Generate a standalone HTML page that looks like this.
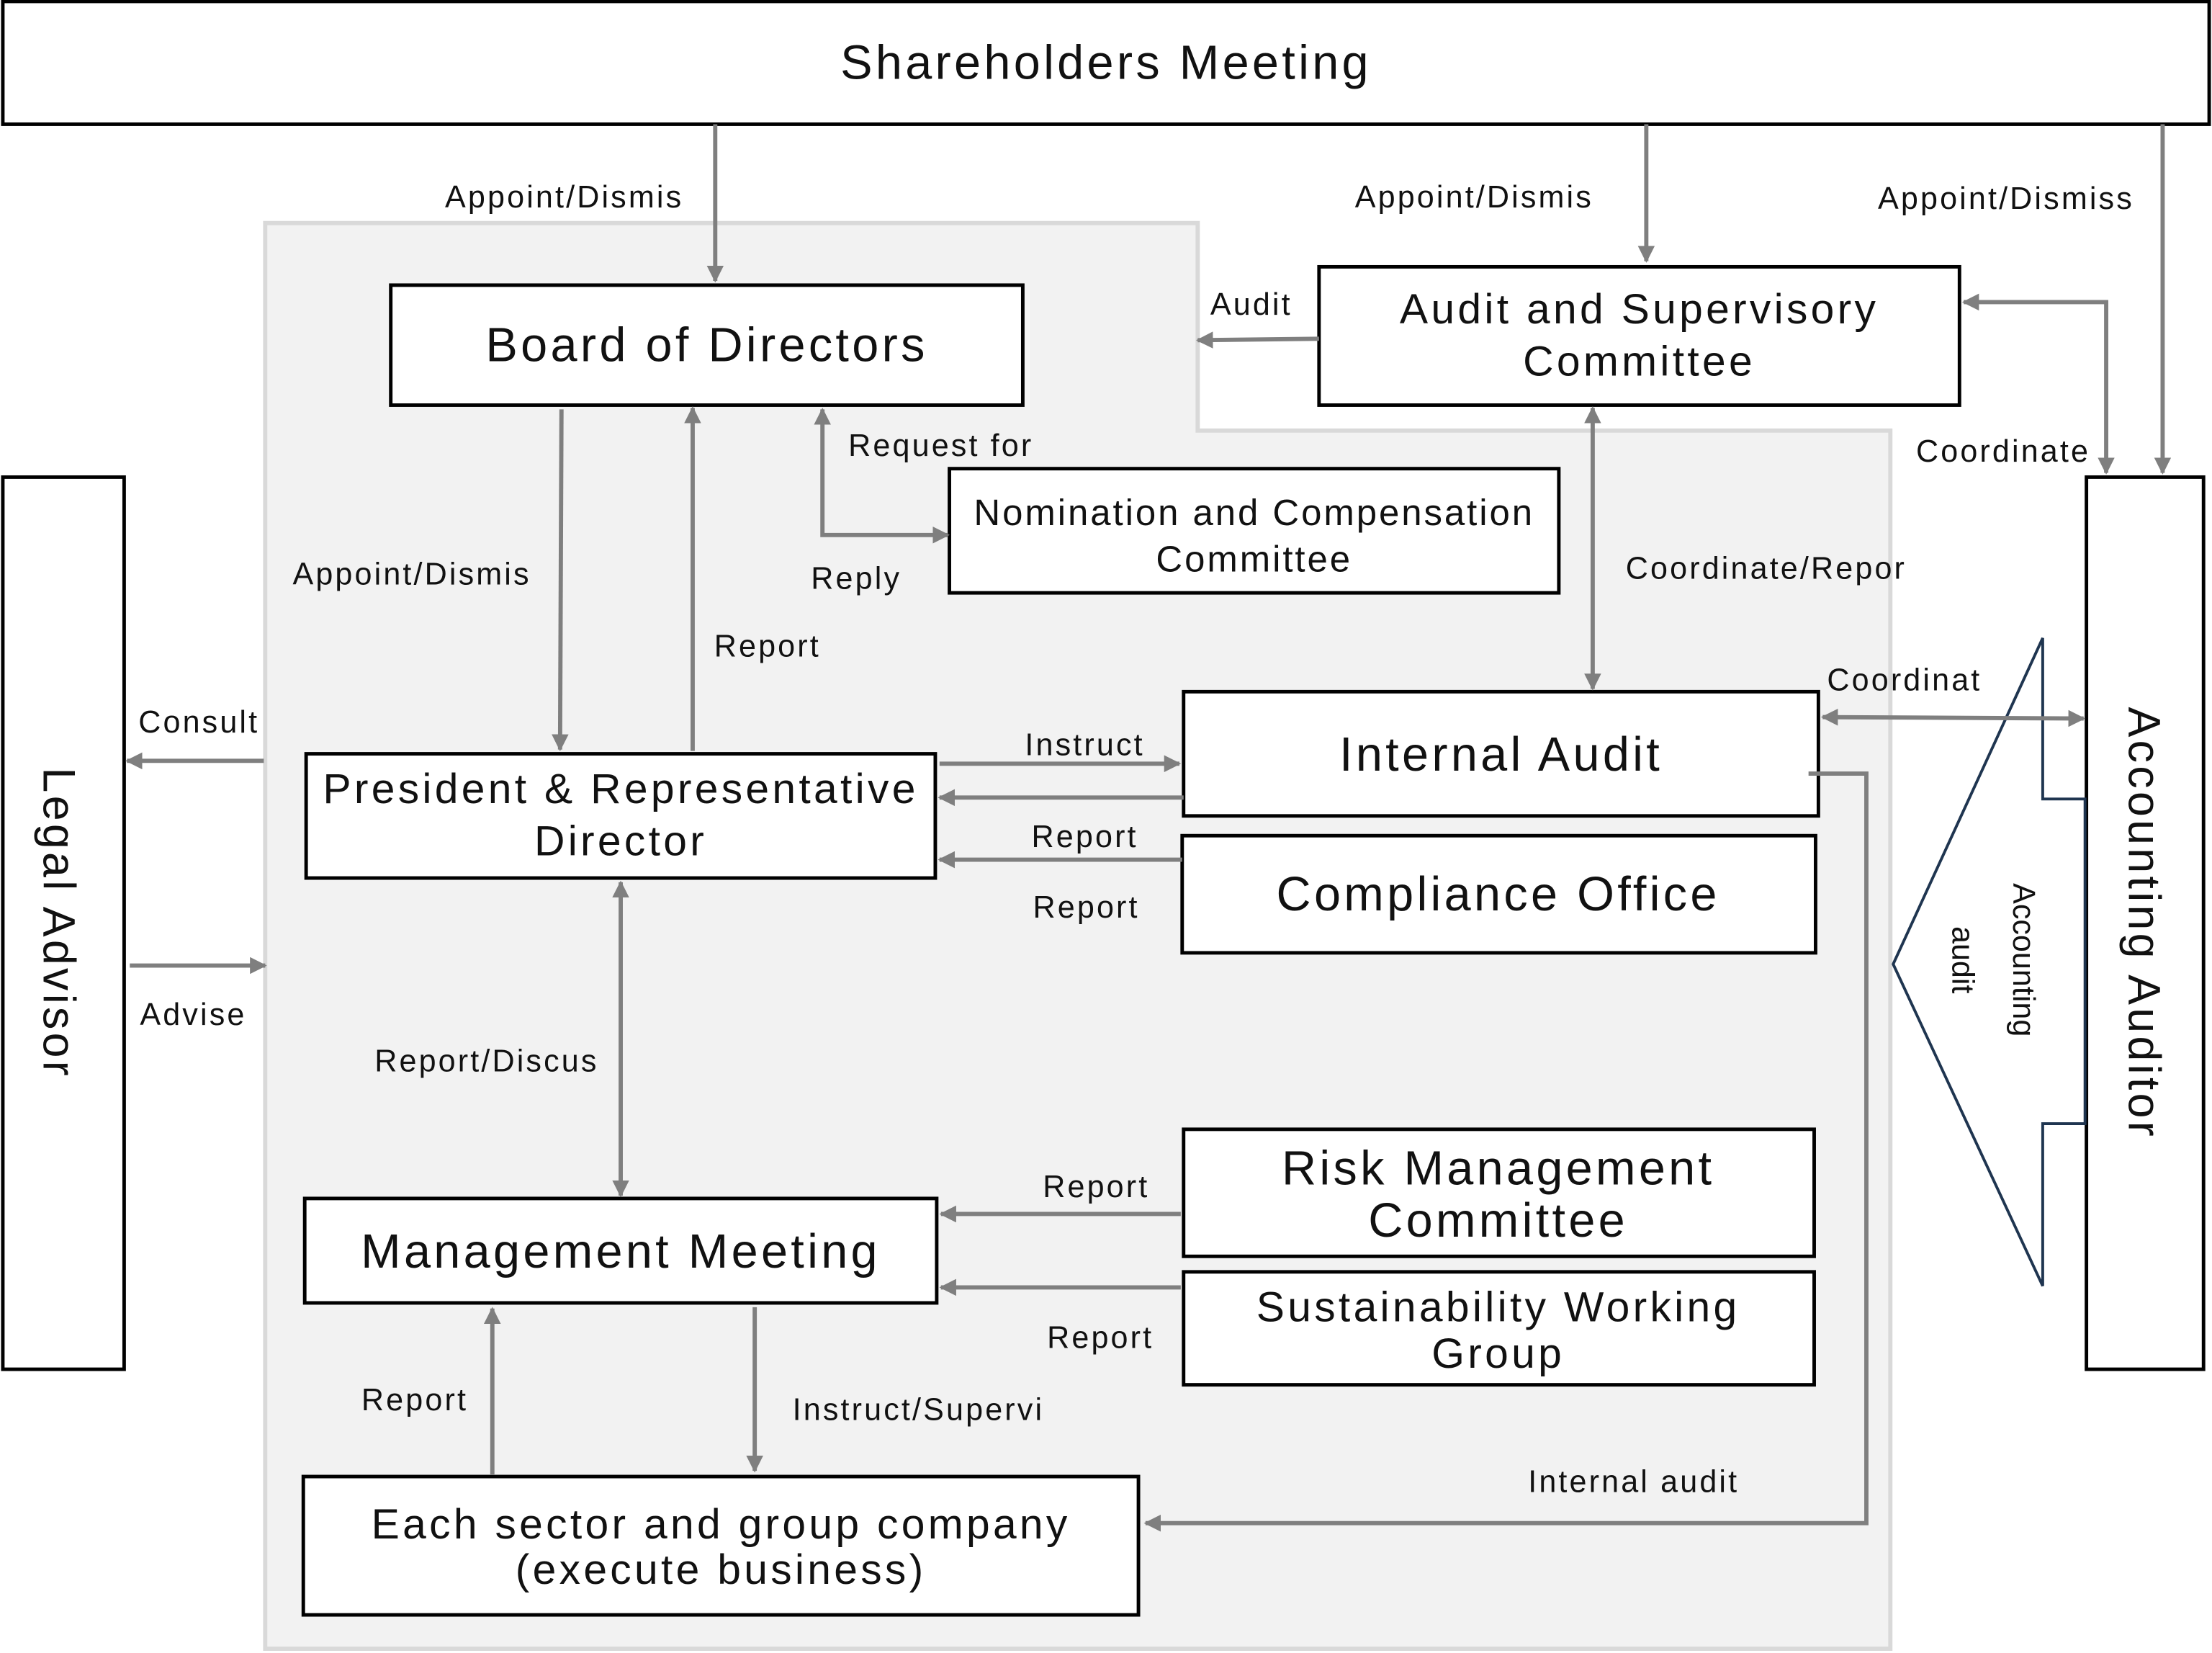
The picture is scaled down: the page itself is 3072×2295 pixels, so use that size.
<!DOCTYPE html>
<html><head><meta charset="utf-8"><style>
html,body{margin:0;padding:0;background:#fff}
svg{display:block}
text{font-family:"Liberation Sans","Noto Sans CJK JP",sans-serif;fill:#111}
.lb{font-size:22px;letter-spacing:1.6px}
.bx{fill:#fff;stroke:#000;stroke-width:2.5}
.ln{stroke:#7f7f7f;stroke-width:3;fill:none}
.t{letter-spacing:2.2px}
</style></head><body>
<svg width="3072" height="2295" viewBox="0 0 1568 1171" preserveAspectRatio="none" xmlns="http://www.w3.org/2000/svg">
<defs>
<marker id="a" viewBox="0 0 10 10" refX="9" refY="5" markerWidth="4" markerHeight="4" orient="auto-start-reverse" markerUnits="strokeWidth">
<path d="M0,0 L10,5 L0,10 z" fill="#7f7f7f"/></marker>
</defs>
<rect width="1568" height="1171" fill="#fff"/>
<polygon points="188,158 849,158 849,305 1340,305 1340,1168 188,1168" fill="#f2f2f2" stroke="#d9d9d9" stroke-width="3"/>

<rect class="bx" x="2" y="1" width="1564" height="87"/>
<text class="t" x="784" y="56" font-size="34" text-anchor="middle">Shareholders Meeting</text>
<rect class="bx" x="277" y="202" width="448" height="85"/>
<text class="t" x="501" y="256" font-size="34" text-anchor="middle">Board of Directors</text>
<rect class="bx" x="935" y="189" width="454" height="98"/>
<text class="t" x="1162" y="229" font-size="30" text-anchor="middle">Audit and Supervisory</text>
<text class="t" x="1162" y="266" font-size="30" text-anchor="middle">Committee</text>
<rect class="bx" x="673" y="332" width="432" height="88"/>
<text x="889" y="372" font-size="26" text-anchor="middle" letter-spacing="1.5">Nomination and Compensation</text>
<text x="889" y="405" font-size="26" text-anchor="middle" letter-spacing="1.5">Committee</text>
<rect class="bx" x="2" y="338" width="86" height="632"/>
<text class="t" transform="translate(31,654) rotate(90)" font-size="32" text-anchor="middle">Legal Advisor</text>
<rect class="bx" x="1479" y="338" width="83" height="632"/>
<text class="t" transform="translate(1509,654) rotate(90)" font-size="32" text-anchor="middle">Accounting Auditor</text>
<polygon points="1342,683 1448,452 1448,566 1478,566 1478,796 1448,796 1448,911" fill="#fff" stroke="#1f3550" stroke-width="2"/>
<text transform="translate(1427,680) rotate(90)" font-size="22" text-anchor="middle">Accounting</text>
<text transform="translate(1384,680) rotate(90)" font-size="22" text-anchor="middle">audit</text>
<rect class="bx" x="839" y="490" width="450" height="88"/>
<text class="t" x="1064" y="546" font-size="34" text-anchor="middle">Internal Audit</text>
<rect class="bx" x="838" y="592" width="449" height="83"/>
<text class="t" x="1062" y="645" font-size="34" text-anchor="middle">Compliance Office</text>
<rect class="bx" x="217" y="534" width="446" height="88"/>
<text class="t" x="440" y="569" font-size="30" text-anchor="middle">President &amp; Representative</text>
<text class="t" x="440" y="606" font-size="30" text-anchor="middle">Director</text>
<rect class="bx" x="839" y="800" width="447" height="90"/>
<text class="t" x="1062" y="839" font-size="34" text-anchor="middle">Risk Management</text>
<text class="t" x="1062" y="876" font-size="34" text-anchor="middle">Committee</text>
<rect class="bx" x="839" y="901" width="447" height="80"/>
<text class="t" x="1062" y="936" font-size="30" text-anchor="middle">Sustainability Working</text>
<text class="t" x="1062" y="969" font-size="30" text-anchor="middle">Group</text>
<rect class="bx" x="216" y="849" width="448" height="74"/>
<text class="t" x="440" y="898" font-size="34" text-anchor="middle">Management Meeting</text>
<rect class="bx" x="215" y="1046" width="592" height="98"/>
<text class="t" x="511" y="1090" font-size="30" text-anchor="middle">Each sector and group company</text>
<text class="t" x="511" y="1122" font-size="30" text-anchor="middle">(execute business)</text>

<line class="ln" x1="507" y1="88" x2="507" y2="199" marker-end="url(#a)"/>
<line class="ln" x1="1167" y1="88" x2="1167" y2="185" marker-end="url(#a)"/>
<line class="ln" x1="1533" y1="88" x2="1533" y2="335" marker-end="url(#a)"/>
<line class="ln" x1="935" y1="240" x2="849" y2="241" marker-end="url(#a)"/>
<polyline class="ln" points="1392,214 1493,214 1493,335" marker-start="url(#a)" marker-end="url(#a)"/>
<line class="ln" x1="398" y1="290" x2="397" y2="531" marker-end="url(#a)"/>
<line class="ln" x1="491" y1="532" x2="491" y2="289" marker-end="url(#a)"/>
<polyline class="ln" points="583,290 583,379 672,379" marker-start="url(#a)" marker-end="url(#a)"/>
<line class="ln" x1="1129" y1="289" x2="1129" y2="488" marker-start="url(#a)" marker-end="url(#a)"/>
<line class="ln" x1="1292" y1="508" x2="1477" y2="509" marker-start="url(#a)" marker-end="url(#a)"/>
<line class="ln" x1="666" y1="541" x2="836" y2="541" marker-end="url(#a)"/>
<line class="ln" x1="839" y1="565" x2="666" y2="565" marker-end="url(#a)"/>
<line class="ln" x1="838" y1="609" x2="666" y2="609" marker-end="url(#a)"/>
<line class="ln" x1="187" y1="539" x2="90" y2="539" marker-end="url(#a)"/>
<line class="ln" x1="92" y1="684" x2="188" y2="684" marker-end="url(#a)"/>
<line class="ln" x1="440" y1="625" x2="440" y2="847" marker-start="url(#a)" marker-end="url(#a)"/>
<line class="ln" x1="837" y1="860" x2="667" y2="860" marker-end="url(#a)"/>
<line class="ln" x1="837" y1="912" x2="667" y2="912" marker-end="url(#a)"/>
<line class="ln" x1="349" y1="1045" x2="349" y2="927" marker-end="url(#a)"/>
<line class="ln" x1="535" y1="926" x2="535" y2="1042" marker-end="url(#a)"/>
<polyline class="ln" points="1282,548 1323,548 1323,1079 812,1079" marker-end="url(#a)"/>

<text class="lb" x="400" y="147" text-anchor="middle">Appoint/Dismis</text>
<text class="lb" x="1045" y="147" text-anchor="middle">Appoint/Dismis</text>
<text class="lb" x="1422" y="148" text-anchor="middle">Appoint/Dismiss</text>
<text class="lb" x="887" y="223" text-anchor="middle">Audit</text>
<text class="lb" x="1420" y="327" text-anchor="middle">Coordinate</text>
<text class="lb" x="292" y="414" text-anchor="middle">Appoint/Dismis</text>
<text class="lb" x="544" y="465" text-anchor="middle">Report</text>
<text class="lb" x="667" y="323" text-anchor="middle">Request for</text>
<text class="lb" x="607" y="417" text-anchor="middle">Reply</text>
<text class="lb" x="1252" y="410" text-anchor="middle">Coordinate/Repor</text>
<text class="lb" x="1350" y="489" text-anchor="middle">Coordinat</text>
<text class="lb" x="769" y="535" text-anchor="middle">Instruct</text>
<text class="lb" x="769" y="600" text-anchor="middle">Report</text>
<text class="lb" x="770" y="650" text-anchor="middle">Report</text>
<text class="lb" x="141" y="519" text-anchor="middle">Consult</text>
<text class="lb" x="137" y="726" text-anchor="middle">Advise</text>
<text class="lb" x="345" y="759" text-anchor="middle">Report/Discus</text>
<text class="lb" x="777" y="848" text-anchor="middle">Report</text>
<text class="lb" x="780" y="955" text-anchor="middle">Report</text>
<text class="lb" x="294" y="999" text-anchor="middle">Report</text>
<text class="lb" x="651" y="1006" text-anchor="middle">Instruct/Supervi</text>
<text class="lb" x="1158" y="1057" text-anchor="middle">Internal audit</text>
</svg>
</body></html>
